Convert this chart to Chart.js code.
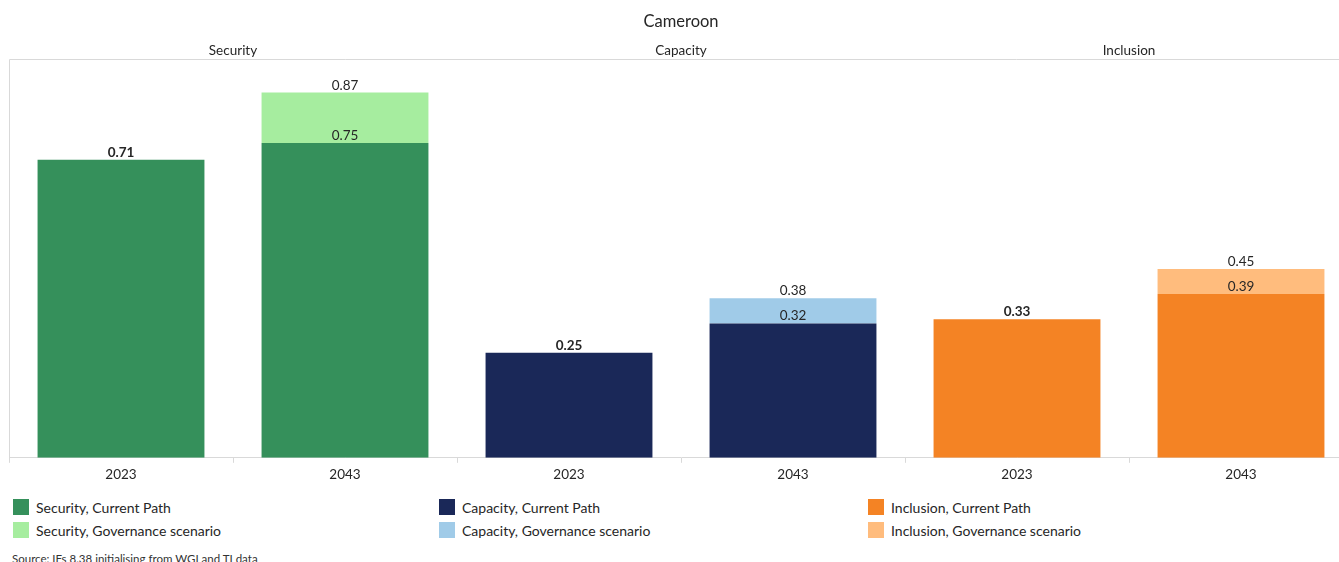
<!DOCTYPE html>
<html>
<head>
<meta charset="utf-8">
<title>Cameroon</title>
<script src="https://cdn.jsdelivr.net/npm/chart.js@4/dist/chart.umd.min.js"></script>
<style>
  html, body { margin: 0; padding: 0; background: #fff; overflow: hidden; }
  body { width: 1339px; height: 562px; position: relative; font-family: Lato, "Open Sans", sans-serif; color: #262626; }
  #wrap { position: absolute; left: 0; top: 0; width: 1362px; height: 490px; }
  #legend { position: absolute; left: 13px; top: 499px; display: grid; grid-template-columns: 426px 429px 300px; row-gap: 7px; }
  .item { display: flex; align-items: center; font-size: 14px; height: 16px; }
  .box { width: 16px; height: 16px; margin-right: 7px; flex: none; }
  #source { position: absolute; left: 12px; top: 552px; font-size: 11.5px; color: #333; }
</style>
</head>
<body>
<div id="wrap"><canvas id="chart" width="1362" height="490"></canvas></div>
<div id="legend"></div>
<div id="source">Source: IFs 8.38 initialising from WGI and TI data</div>
<script>
// Governance pillars for Cameroon, 2023 vs 2043
const chartTitle = 'Cameroon';
const pillars = ['Security', 'Capacity', 'Inclusion'];
const years = ['2023', '2043'];

// Current Path values per pillar: [2023, 2043]
const securityCurrent = [0.71, 0.75];
const capacityCurrent = [0.25, 0.32];
const inclusionCurrent = [0.33, 0.39];

// Governance scenario values (only for 2043)
const securityScenario = [null, 0.87];
const capacityScenario = [null, 0.38];
const inclusionScenario = [null, 0.45];

const currentColors = ['#35905b', '#1a2858', '#f48324'];
const scenarioColors = ['#a6ed9f', '#a0cbe8', '#ffbc7d'];

const currentSeries = [securityCurrent, capacityCurrent, inclusionCurrent];
const scenarioSeries = [securityScenario, capacityScenario, inclusionScenario];

// one slot per pillar/year pair
const labels = [];
pillars.forEach(() => years.forEach(y => labels.push(y)));

const datasets = [];
pillars.forEach((p, i) => {
    const cur = labels.map(() => null);
    const scen = labels.map(() => null);
    years.forEach((y, j) => {
        const idx = i * years.length + j;
        cur[idx] = currentSeries[i][j];
        if (scenarioSeries[i][j] != null) {
            // scenario bar floats from the current path value up to the scenario value
            scen[idx] = [currentSeries[i][j], scenarioSeries[i][j]];
        }
    });
    datasets.push({
        label: p + ', Current Path',
        data: cur,
        backgroundColor: currentColors[i],
        grouped: false,
        order: 1
    });
    datasets.push({
        label: p + ', Governance scenario',
        data: scen,
        backgroundColor: scenarioColors[i],
        grouped: false,
        order: 2
    });
});

const FONT = 'Lato, "Open Sans", sans-serif';

// Titles, pillar headings, plot frame and value labels
const decorations = {
    id: 'decorations',
    beforeDatasetsDraw(chart) {
        const { ctx, chartArea: a } = chart;
        ctx.save();
        ctx.strokeStyle = '#d9d9d9';
        ctx.lineWidth = 1;
        ctx.beginPath();
        ctx.moveTo(a.left + 0.5, a.bottom);
        ctx.lineTo(a.left + 0.5, a.top + 0.5);
        ctx.lineTo(a.right - 0.5, a.top + 0.5);
        ctx.lineTo(a.right - 0.5, a.bottom);
        ctx.stroke();
        ctx.restore();
    },
    afterDatasetsDraw(chart) {
        const { ctx, chartArea: a, scales } = chart;
        ctx.save();
        ctx.fillStyle = '#262626';
        ctx.textAlign = 'center';
        ctx.textBaseline = 'alphabetic';
        ctx.font = '16.5px ' + FONT;
        ctx.fillText(chartTitle, (a.left + a.right) / 2, 27);

        ctx.font = '13.5px ' + FONT;
        pillars.forEach((p, i) => {
            const x0 = scales.x.getPixelForValue(i * 2);
            const x1 = scales.x.getPixelForValue(i * 2 + 1);
            ctx.fillText(p, (x0 + x1) / 2, a.top - 4);
        });

        chart.data.datasets.forEach((ds, di) => {
            const meta = chart.getDatasetMeta(di);
            meta.data.forEach((bar, k) => {
                const v = ds.data[k];
                if (v == null) return;
                const value = Array.isArray(v) ? v[1] : v;
                const solo = !Array.isArray(v) && chart.data.datasets[di + 1].data[k] == null;
                ctx.font = (solo ? 'bold ' : '') + '13.5px ' + FONT;
                ctx.fillText(value.toFixed(2), bar.x, bar.y - 3);
            });
        });
        ctx.restore();
    }
};

new Chart(document.getElementById('chart').getContext('2d'), {
    type: 'bar',
    data: { labels: labels, datasets: datasets },
    options: {
        responsive: false,
        animation: false,
        layout: { padding: { left: 9, right: 9, top: 59, bottom: 3 } },
        datasets: { bar: { categoryPercentage: 1, barPercentage: 0.745 } },
        plugins: {
            legend: { display: false },
            tooltip: { enabled: false }
        },
        scales: {
            x: {
                grid: { display: true, drawOnChartArea: false, offset: true, tickLength: 5, color: '#d9d9d9' },
                border: { color: '#d9d9d9' },
                ticks: { color: '#262626', font: { family: FONT, size: 13.5 }, padding: 4 }
            },
            y: {
                display: false,
                min: 0,
                max: 0.95
            }
        }
    },
    plugins: [decorations]
});

// Legend laid out in three columns, one per pillar
const legend = document.getElementById('legend');
[0, 1].forEach(row => {
    pillars.forEach((p, i) => {
        const ds = datasets[i * 2 + row];
        const item = document.createElement('div');
        item.className = 'item';
        item.innerHTML = '<span class="box" style="background:' + ds.backgroundColor + '"></span>' + ds.label;
        legend.appendChild(item);
    });
});
</script>
</body>
</html>
